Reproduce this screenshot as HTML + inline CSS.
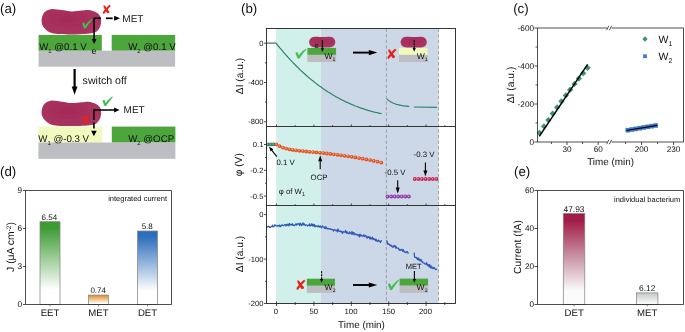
<!DOCTYPE html><html><head><meta charset="utf-8"><title>figure</title><style>html,body{margin:0;padding:0;background:#fff}svg{display:block}text{font-family:"Liberation Sans",sans-serif;fill:#111;text-rendering:geometricPrecision}.dj{font-family:"DejaVu Sans",sans-serif}</style></head><body>
<svg width="685" height="332" viewBox="0 0 685 332">
<defs>
<linearGradient id="gG" x1="0" y1="0" x2="0" y2="1"><stop offset="0" stop-color="#3c9a32"/><stop offset="0.08" stop-color="#3f9c35"/><stop offset="0.82" stop-color="#ffffff"/></linearGradient>
<linearGradient id="gO" x1="0" y1="0" x2="0" y2="1"><stop offset="0" stop-color="#dc8a1c"/><stop offset="0.9" stop-color="#ffffff"/></linearGradient>
<linearGradient id="gB" x1="0" y1="0" x2="0" y2="1"><stop offset="0" stop-color="#2c6cba"/><stop offset="0.08" stop-color="#2f6fbc"/><stop offset="0.82" stop-color="#ffffff"/></linearGradient>
<linearGradient id="gR" x1="0" y1="0" x2="0" y2="1"><stop offset="0" stop-color="#a01a45"/><stop offset="0.08" stop-color="#a21d48"/><stop offset="0.5" stop-color="#cb9aaa"/><stop offset="0.85" stop-color="#fbfbfb"/></linearGradient>
<linearGradient id="gK" x1="0" y1="0" x2="0" y2="1"><stop offset="0" stop-color="#c3c9c8"/><stop offset="1" stop-color="#ffffff"/></linearGradient>
<radialGradient id="bac" cx="0.45" cy="0.4" r="0.75"><stop offset="0" stop-color="#a52a57"/><stop offset="0.8" stop-color="#a93460"/><stop offset="1" stop-color="#bd5078"/></radialGradient>
<path id="bact" d="M0,11.4 C0.10,9.82 0.45,7.57 1.2,6 C1.95,4.43 2.92,3.00 4.5,2 C6.08,1.00 8.12,0.13 10.7,0 C13.28,-0.13 16.75,0.78 20,1.2 C23.25,1.62 26.87,2.43 30.2,2.5 C33.53,2.57 37.20,1.83 40,1.6 C42.80,1.37 44.75,0.88 47,1.1 C49.25,1.32 51.67,2.00 53.5,2.9 C55.33,3.80 57.00,5.08 58,6.5 C59.00,7.92 59.40,9.57 59.5,11.4 C59.60,13.23 59.33,15.63 58.6,17.5 C57.87,19.37 56.77,21.40 55.1,22.6 C53.43,23.80 51.45,24.25 48.6,24.7 C45.75,25.15 41.62,25.17 38,25.3 C34.38,25.43 30.57,25.53 26.9,25.5 C23.23,25.47 19.07,25.42 16,25.1 C12.93,24.78 10.65,24.53 8.5,23.6 C6.35,22.67 4.42,20.85 3.1,19.5 C1.78,18.15 1.12,16.85 0.6,15.5 C0.08,14.15 -0.10,12.98 0,11.4 Z"/>
<path id="bact2" d="M5.5,0.25 C9,0.0 11,0.55 13.2,0.55 C15.5,0.55 18,0.0 21,0.25 C24.5,0.6 26.3,3 26.3,5.6 C26.3,8.6 24.3,10.9 20.5,10.9 L6,10.9 C2.2,10.9 0.1,8.6 0.1,5.6 C0.1,3 2,0.6 5.5,0.25 Z"/>
<filter id="soft" x="-5%" y="-10%" width="110%" height="120%"><feGaussianBlur stdDeviation="0.45"/></filter>
</defs>
<rect width="685" height="332" fill="#fff"/>
<text x="0.05" y="13.3" font-size="13.3" text-anchor="start" >(a)</text>
<rect x="38.6" y="34.9" width="63.2" height="15.9" fill="#4da63c"/>
<rect x="111.7" y="34.9" width="63.4" height="15.9" fill="#4da63c"/>
<rect x="38.6" y="50.7" width="136.5" height="16" fill="#bdbec2"/>
<use href="#bact" x="41.6" y="8.9" fill="url(#bac)" filter="url(#soft)"/>
<text x="39.2" y="49.8" font-size="9.7" text-anchor="start" >W<tspan font-size="5.8" dy="3.2">1</tspan><tspan dy="-3.2"> @0.1 V</tspan></text>
<text x="128.2" y="49.8" font-size="9.7" text-anchor="start" >W<tspan font-size="5.8" dy="3.2">2</tspan><tspan dy="-3.2"> @0.1 V</tspan></text>
<text x="91.5" y="53.8" font-size="9" text-anchor="start" >e</text>
<path d="M101,18.3 H94.1 V40" fill="none" stroke="#000" stroke-width="1.5"/>
<polygon points="94.10,44.00 91.70,39.00 96.50,39.00" fill="#000"/>
<path d="M105.9,18.3 H112.7" fill="none" stroke="#000" stroke-width="1.7"/>
<polygon points="120.00,18.30 114.10,20.80 114.10,15.80" fill="#000"/>
<text x="122.3" y="21.5" font-size="10" text-anchor="start" >MET</text>
<text class="dj" x="106.5" y="14" font-size="12.5" text-anchor="middle" style="fill:#e8231c">✘</text>
<path d="M82.01,23.03 C82.62,22.46 83.86,22.26 84.27,22.84 L85.20,25.53 C86.95,23.03 89.52,20.15 91.69,19.00 C92.10,19.00 92.10,19.58 91.89,19.96 C89.52,22.84 87.16,25.91 85.92,28.22 C85.51,28.79 84.07,28.79 83.86,28.02 Z" fill="#42bd4f"/>
<path d="M74.6,69 V88" stroke="#000" stroke-width="2.2" fill="none"/>
<polygon points="74.60,94.70 71.70,86.50 77.50,86.50" fill="#000"/>
<text x="82.6" y="83.6" font-size="10.65" text-anchor="start" >switch off</text>
<rect x="38.4" y="126.6" width="63.9" height="16" fill="#f1f9bd"/>
<rect x="111.8" y="126.6" width="63.6" height="16" fill="#4da63c"/>
<rect x="38.4" y="142.5" width="137" height="16.3" fill="#bdbec2"/>
<use href="#bact" x="41.6" y="100.6" fill="url(#bac)" filter="url(#soft)"/>
<text x="38.3" y="142.2" font-size="9.7" text-anchor="start" >W<tspan font-size="5.8" dy="3.2">1</tspan><tspan dy="-3.2"> @-0.3 V</tspan></text>
<text x="128.2" y="141.9" font-size="9.7" text-anchor="start" >W<tspan font-size="5.8" dy="3.2">2</tspan><tspan dy="-3.2"> @OCP</tspan></text>
<path d="M93.9,120 V110 H115" fill="none" stroke="#000" stroke-width="1.5"/>
<polygon points="119.60,110.00 114.10,112.60 114.10,107.40" fill="#000"/>
<path d="M93.9,122.2 V131.5" fill="none" stroke="#000" stroke-width="1.6" stroke-dasharray="6.2,3"/>
<polygon points="93.90,136.30 91.10,130.80 96.70,130.80" fill="#000"/>
<text x="123.6" y="112.9" font-size="10" text-anchor="start" >MET</text>
<path d="M102.41,100.49 C103.05,99.92 104.32,99.73 104.74,100.30 L105.70,102.96 C107.50,100.49 110.15,97.64 112.38,96.50 C112.80,96.50 112.80,97.07 112.59,97.45 C110.15,100.30 107.71,103.34 106.44,105.62 C106.02,106.19 104.53,106.19 104.32,105.43 Z" fill="#42bd4f"/>
<text class="dj" x="85.9" y="124.3" font-size="12" text-anchor="middle" style="fill:#e8231c">✘</text>
<text x="0.05" y="176.2" font-size="13.3" text-anchor="start" >(d)</text>
<rect x="40" y="221.7" width="20" height="82.80000000000001" fill="url(#gG)" stroke="#858585" stroke-width="0.75"/>
<rect x="88.5" y="295.1" width="20" height="9.399999999999977" fill="url(#gO)" stroke="#858585" stroke-width="0.75"/>
<rect x="137.5" y="231" width="20" height="73.5" fill="url(#gB)" stroke="#858585" stroke-width="0.75"/>
<path d="M25.5,304.5 V190.5 H171.5 V304.5 Z" fill="none" stroke="#222" stroke-width="0.8"/>
<path d="M25.5,190.5 h-2.5" stroke="#222" stroke-width="0.8"/>
<text x="22.2" y="193.45" font-size="8.3" text-anchor="end" >9</text>
<path d="M25.5,228.5 h-2.5" stroke="#222" stroke-width="0.8"/>
<text x="22.2" y="231.45" font-size="8.3" text-anchor="end" >6</text>
<path d="M25.5,266.5 h-2.5" stroke="#222" stroke-width="0.8"/>
<text x="22.2" y="269.45" font-size="8.3" text-anchor="end" >3</text>
<path d="M25.5,304.5 h-2.5" stroke="#222" stroke-width="0.8"/>
<text x="22.2" y="307.45" font-size="8.3" text-anchor="end" >0</text>
<text x="50" y="315.9" font-size="9.6" text-anchor="middle" >EET</text>
<path d="M50,304.5 v2" stroke="#555" stroke-width="0.7"/>
<path d="M98.5,304.5 v2" stroke="#555" stroke-width="0.7"/>
<path d="M147.5,304.5 v2" stroke="#555" stroke-width="0.7"/>
<text x="98.5" y="315.9" font-size="9.6" text-anchor="middle" >MET</text>
<text x="147.5" y="315.9" font-size="9.6" text-anchor="middle" >DET</text>
<text x="49.4" y="219.9" font-size="8" text-anchor="middle" >6.54</text>
<text x="98.2" y="293.2" font-size="8" text-anchor="middle" >0.74</text>
<text x="147.2" y="229.4" font-size="8" text-anchor="middle" >5.8</text>
<text x="108.2" y="201.4" font-size="7.5" text-anchor="start" >integrated current</text>
<text transform="translate(14.2,247) rotate(-90)" font-size="10.4" text-anchor="middle">J (μA cm<tspan font-size="6.5" dy="-3.5">-2</tspan><tspan dy="3.5">)</tspan></text>
<text x="241.05" y="13.3" font-size="13.3" text-anchor="start" >(b)</text>
<rect x="276.1" y="28.5" width="44.9" height="275.0" fill="#d2f0eb"/>
<rect x="321.0" y="28.5" width="117.5" height="275.0" fill="#ccd7e8"/>
<path d="M386.4,28.5 V303.5 M438.5,28.5 V303.5" stroke="#8f9399" stroke-width="0.8" stroke-dasharray="3.4,2.2" fill="none"/>
<polyline fill="none" stroke="#2f8268" stroke-width="1.2" points="266.5,43.2 275.4,43.0 276.1,43.2 276.1,43.2 276.8,44.1 277.6,45.1 278.3,46.0 279.1,46.9 279.8,47.8 280.6,48.7 281.3,49.6 282.1,50.5 282.8,51.4 283.6,52.3 284.3,53.1 285.1,54.0 285.8,54.9 286.6,55.7 287.3,56.5 288.1,57.4 288.8,58.2 289.6,59.0 290.3,59.8 291.1,60.6 291.8,61.4 292.6,62.2 293.3,63.0 294.1,63.7 294.8,64.5 295.5,65.3 296.3,66.0 297.0,66.8 297.8,67.5 298.5,68.2 299.3,69.0 300.0,69.7 300.8,70.4 301.5,71.1 302.3,71.8 303.0,72.5 303.8,73.2 304.5,73.8 305.3,74.5 306.0,75.2 306.8,75.8 307.5,76.5 308.3,77.1 309.0,77.8 309.8,78.4 310.5,79.0 311.3,79.6 312.0,80.2 312.8,80.8 313.5,81.4 314.2,82.0 315.0,82.6 315.7,83.2 316.5,83.8 317.2,84.3 318.0,84.9 318.7,85.5 319.5,86.0 320.2,86.6 321.0,87.1 321.7,87.6 322.5,88.2 323.2,88.7 324.0,89.2 324.7,89.7 325.5,90.2 326.2,90.7 327.0,91.2 327.7,91.7 328.5,92.2 329.2,92.6 330.0,93.1 330.7,93.6 331.5,94.0 332.2,94.5 332.9,94.9 333.7,95.4 334.4,95.8 335.2,96.2 335.9,96.7 336.7,97.1 337.4,97.5 338.2,97.9 338.9,98.3 339.7,98.7 340.4,99.1 341.2,99.5 341.9,99.9 342.7,100.3 343.4,100.6 344.2,101.0 344.9,101.4 345.7,101.7 346.4,102.1 347.2,102.4 347.9,102.8 348.7,103.1 349.4,103.4 350.2,103.8 350.9,104.1 351.6,104.4 352.4,104.7 353.1,105.0 353.9,105.4 354.6,105.7 355.4,106.0 356.1,106.2 356.9,106.5 357.6,106.8 358.4,107.1 359.1,107.4 359.9,107.6 360.6,107.9 361.4,108.2 362.1,108.4 362.9,108.7 363.6,108.9 364.4,109.2 365.1,109.4 365.9,109.6 366.6,109.9 367.4,110.1 368.1,110.3 368.9,110.6 369.6,110.8 370.3,111.0 371.1,111.2 371.8,111.4 372.6,111.6 373.3,111.8 374.1,112.0 374.8,112.2 375.6,112.4 376.3,112.5 377.1,112.7 377.8,112.9 378.6,113.1 379.3,113.2 380.1,113.4 380.8,113.5 381.6,113.7"/>
<polyline fill="none" stroke="#2f8268" stroke-width="1.2" points="386.8,98.9 387.6,99.6 388.3,100.2 389.0,100.7 389.8,101.2 390.5,101.7 391.3,102.1 392.0,102.5 392.8,102.9 393.5,103.2 394.3,103.5 395.0,103.8 395.8,104.1 396.5,104.3 397.3,104.5 398.0,104.7 398.8,104.9 399.5,105.1 400.3,105.2 401.0,105.4 401.8,105.5 402.5,105.7 403.3,105.8 404.0,105.9 404.8,106.0 405.5,106.1 406.3,106.1 407.0,106.2 407.7,106.3 408.5,106.3 409.2,106.4"/>
<path d="M414,107 L437,107.4" stroke="#2f8268" stroke-width="1.2" fill="none"/>
<circle cx="267.9" cy="144.4" r="1.9" fill="#2f8268"/><circle cx="267.6" cy="144.1" r="0.7" fill="#fff" fill-opacity="0.6"/>
<circle cx="270.7" cy="144.4" r="1.9" fill="#2f8268"/><circle cx="270.4" cy="144.1" r="0.7" fill="#fff" fill-opacity="0.6"/>
<circle cx="273.5" cy="144.4" r="1.9" fill="#2f8268"/><circle cx="273.2" cy="144.1" r="0.7" fill="#fff" fill-opacity="0.6"/>
<circle cx="276.4" cy="144.3" r="1.9" fill="#e2521c"/><circle cx="276.1" cy="144.0" r="0.7" fill="#fff" fill-opacity="0.6"/>
<circle cx="279.6" cy="146.2" r="1.9" fill="#e2521c"/><circle cx="279.3" cy="145.9" r="0.7" fill="#fff" fill-opacity="0.6"/>
<circle cx="282.9" cy="147.6" r="1.9" fill="#e2521c"/><circle cx="282.6" cy="147.2" r="0.7" fill="#fff" fill-opacity="0.6"/>
<circle cx="286.2" cy="148.6" r="1.9" fill="#e2521c"/><circle cx="285.9" cy="148.2" r="0.7" fill="#fff" fill-opacity="0.6"/>
<circle cx="289.5" cy="149.3" r="1.9" fill="#e2521c"/><circle cx="289.2" cy="149.0" r="0.7" fill="#fff" fill-opacity="0.6"/>
<circle cx="292.8" cy="149.9" r="1.9" fill="#e2521c"/><circle cx="292.5" cy="149.5" r="0.7" fill="#fff" fill-opacity="0.6"/>
<circle cx="296.1" cy="150.4" r="1.9" fill="#e2521c"/><circle cx="295.8" cy="150.0" r="0.7" fill="#fff" fill-opacity="0.6"/>
<circle cx="299.5" cy="150.8" r="1.9" fill="#e2521c"/><circle cx="299.2" cy="150.4" r="0.7" fill="#fff" fill-opacity="0.6"/>
<circle cx="302.9" cy="151.1" r="1.9" fill="#e2521c"/><circle cx="302.6" cy="150.8" r="0.7" fill="#fff" fill-opacity="0.6"/>
<circle cx="306.2" cy="151.5" r="1.9" fill="#e2521c"/><circle cx="305.9" cy="151.1" r="0.7" fill="#fff" fill-opacity="0.6"/>
<circle cx="309.6" cy="151.8" r="1.9" fill="#e2521c"/><circle cx="309.3" cy="151.4" r="0.7" fill="#fff" fill-opacity="0.6"/>
<circle cx="313.1" cy="152.1" r="1.9" fill="#e2521c"/><circle cx="312.8" cy="151.8" r="0.7" fill="#fff" fill-opacity="0.6"/>
<circle cx="316.5" cy="152.4" r="1.9" fill="#e2521c"/><circle cx="316.2" cy="152.1" r="0.7" fill="#fff" fill-opacity="0.6"/>
<circle cx="320.0" cy="152.8" r="1.9" fill="#e2521c"/><circle cx="319.7" cy="152.4" r="0.7" fill="#fff" fill-opacity="0.6"/>
<circle cx="323.4" cy="153.1" r="1.9" fill="#e2521c"/><circle cx="323.1" cy="152.8" r="0.7" fill="#fff" fill-opacity="0.6"/>
<circle cx="326.9" cy="153.5" r="1.9" fill="#e2521c"/><circle cx="326.6" cy="153.2" r="0.7" fill="#fff" fill-opacity="0.6"/>
<circle cx="330.4" cy="153.9" r="1.9" fill="#e2521c"/><circle cx="330.1" cy="153.6" r="0.7" fill="#fff" fill-opacity="0.6"/>
<circle cx="333.9" cy="154.3" r="1.9" fill="#e2521c"/><circle cx="333.6" cy="154.0" r="0.7" fill="#fff" fill-opacity="0.6"/>
<circle cx="337.5" cy="154.8" r="1.9" fill="#e2521c"/><circle cx="337.2" cy="154.4" r="0.7" fill="#fff" fill-opacity="0.6"/>
<circle cx="341.0" cy="155.3" r="1.9" fill="#e2521c"/><circle cx="340.7" cy="154.9" r="0.7" fill="#fff" fill-opacity="0.6"/>
<circle cx="344.6" cy="155.8" r="1.9" fill="#e2521c"/><circle cx="344.3" cy="155.4" r="0.7" fill="#fff" fill-opacity="0.6"/>
<circle cx="348.2" cy="156.3" r="1.9" fill="#e2521c"/><circle cx="347.9" cy="155.9" r="0.7" fill="#fff" fill-opacity="0.6"/>
<circle cx="351.8" cy="156.8" r="1.9" fill="#e2521c"/><circle cx="351.5" cy="156.5" r="0.7" fill="#fff" fill-opacity="0.6"/>
<circle cx="355.4" cy="157.4" r="1.9" fill="#e2521c"/><circle cx="355.1" cy="157.1" r="0.7" fill="#fff" fill-opacity="0.6"/>
<circle cx="359.1" cy="158.1" r="1.9" fill="#e2521c"/><circle cx="358.8" cy="157.7" r="0.7" fill="#fff" fill-opacity="0.6"/>
<circle cx="362.7" cy="158.7" r="1.9" fill="#e2521c"/><circle cx="362.4" cy="158.4" r="0.7" fill="#fff" fill-opacity="0.6"/>
<circle cx="366.4" cy="159.4" r="1.9" fill="#e2521c"/><circle cx="366.1" cy="159.1" r="0.7" fill="#fff" fill-opacity="0.6"/>
<circle cx="370.1" cy="160.1" r="1.9" fill="#e2521c"/><circle cx="369.8" cy="159.8" r="0.7" fill="#fff" fill-opacity="0.6"/>
<circle cx="373.8" cy="160.9" r="1.9" fill="#e2521c"/><circle cx="373.5" cy="160.6" r="0.7" fill="#fff" fill-opacity="0.6"/>
<circle cx="377.6" cy="161.7" r="1.9" fill="#e2521c"/><circle cx="377.3" cy="161.4" r="0.7" fill="#fff" fill-opacity="0.6"/>
<circle cx="381.3" cy="162.6" r="1.9" fill="#e2521c"/><circle cx="381.0" cy="162.2" r="0.7" fill="#fff" fill-opacity="0.6"/>
<circle cx="387.6" cy="196.5" r="1.9" fill="#8e3aa8"/><circle cx="387.3" cy="196.2" r="0.7" fill="#fff" fill-opacity="0.6"/>
<circle cx="391.2" cy="196.5" r="1.9" fill="#8e3aa8"/><circle cx="390.9" cy="196.2" r="0.7" fill="#fff" fill-opacity="0.6"/>
<circle cx="394.7" cy="196.5" r="1.9" fill="#8e3aa8"/><circle cx="394.4" cy="196.2" r="0.7" fill="#fff" fill-opacity="0.6"/>
<circle cx="398.2" cy="196.5" r="1.9" fill="#8e3aa8"/><circle cx="397.9" cy="196.2" r="0.7" fill="#fff" fill-opacity="0.6"/>
<circle cx="401.8" cy="196.5" r="1.9" fill="#8e3aa8"/><circle cx="401.5" cy="196.2" r="0.7" fill="#fff" fill-opacity="0.6"/>
<circle cx="405.4" cy="196.5" r="1.9" fill="#8e3aa8"/><circle cx="405.1" cy="196.2" r="0.7" fill="#fff" fill-opacity="0.6"/>
<circle cx="408.9" cy="196.5" r="1.9" fill="#8e3aa8"/><circle cx="408.6" cy="196.2" r="0.7" fill="#fff" fill-opacity="0.6"/>
<circle cx="414.8" cy="179.0" r="1.9" fill="#c4264e"/><circle cx="414.5" cy="178.7" r="0.7" fill="#fff" fill-opacity="0.6"/>
<circle cx="418.4" cy="179.0" r="1.9" fill="#c4264e"/><circle cx="418.1" cy="178.7" r="0.7" fill="#fff" fill-opacity="0.6"/>
<circle cx="422.0" cy="179.0" r="1.9" fill="#c4264e"/><circle cx="421.7" cy="178.7" r="0.7" fill="#fff" fill-opacity="0.6"/>
<circle cx="425.6" cy="179.0" r="1.9" fill="#c4264e"/><circle cx="425.3" cy="178.7" r="0.7" fill="#fff" fill-opacity="0.6"/>
<circle cx="429.2" cy="179.0" r="1.9" fill="#c4264e"/><circle cx="428.9" cy="178.7" r="0.7" fill="#fff" fill-opacity="0.6"/>
<circle cx="432.8" cy="179.0" r="1.9" fill="#c4264e"/><circle cx="432.5" cy="178.7" r="0.7" fill="#fff" fill-opacity="0.6"/>
<circle cx="436.4" cy="179.0" r="1.9" fill="#c4264e"/><circle cx="436.1" cy="178.7" r="0.7" fill="#fff" fill-opacity="0.6"/>
<polyline fill="none" stroke="#2f58b8" stroke-width="1.25" stroke-linejoin="round" points="266.5,226.8 267.0,227.3 267.5,226.7 268.0,226.6 268.5,226.1 269.0,226.6 269.5,227.4 270.0,226.9 270.5,227.3 271.0,226.7 271.5,226.7 272.0,226.5 272.5,225.2 273.0,226.9 273.5,226.6 274.0,226.5 274.5,224.9 275.0,224.8 275.5,225.4 276.0,225.6 276.5,226.1 277.0,225.8 277.5,226.2 278.0,225.3 278.5,225.9 279.0,225.9 279.5,225.1 280.0,226.8 280.5,225.9 281.0,226.3 281.5,225.0 282.0,224.9 282.5,225.1 283.0,225.3 283.5,225.7 284.0,225.4 284.5,224.9 285.0,224.5 285.5,224.8 286.0,226.0 286.5,224.5 287.0,225.2 287.5,225.3 288.0,224.0 288.5,225.0 289.0,225.9 289.5,223.5 290.0,224.7 290.5,224.8 291.0,224.3 291.5,225.2 292.0,224.7 292.5,223.7 293.0,225.3 293.5,225.2 294.0,225.4 294.5,225.7 295.0,224.9 295.5,224.7 296.0,223.7 296.5,225.1 297.0,224.2 297.5,224.3 298.0,223.7 298.5,223.9 299.0,224.2 299.5,225.5 300.0,223.2 300.5,223.6 301.0,224.7 301.5,225.6 302.0,225.0 302.5,223.3 303.0,222.9 303.5,224.9 304.0,224.1 304.5,223.9 305.0,225.4 305.5,225.5 306.0,224.9 306.5,225.0 307.0,225.1 307.5,226.0 308.0,225.3 308.5,225.3 309.0,225.4 309.5,223.9 310.0,226.0 310.5,225.8 311.0,225.5 311.5,223.8 312.0,224.8 312.5,225.9 313.0,224.1 313.5,225.3 314.0,226.2 314.5,224.6 315.0,226.8 315.5,226.1 316.0,225.7 316.5,226.1 317.0,226.4 317.5,226.1 318.0,226.9 318.5,225.7 319.0,226.0 319.5,227.1 320.0,226.5 320.5,225.9 321.0,227.3 321.5,227.8 322.0,226.6 322.5,226.0 323.0,227.0 323.5,227.1 324.0,227.1 324.5,228.4 325.0,226.8 325.5,228.6 326.0,226.9 326.5,227.4 327.0,228.5 327.5,228.9 328.0,228.9 328.5,228.6 329.0,228.6 329.5,228.8 330.0,229.2 330.5,228.8 331.0,229.2 331.5,229.6 332.0,229.3 332.5,229.9 333.0,229.9 333.5,231.1 334.0,230.0 334.5,229.6 335.0,229.8 335.5,230.2 336.0,230.9 336.5,230.2 337.0,230.8 337.5,231.9 338.0,229.0 338.5,230.1 339.0,231.2 339.5,231.4 340.0,231.4 340.5,231.0 341.0,231.9 341.5,231.7 342.0,231.3 342.5,233.5 343.0,232.1 343.5,231.6 344.0,232.0 344.5,232.0 345.0,232.2 345.5,230.4 346.0,232.0 346.5,233.2 347.0,231.7 347.5,232.6 348.0,233.4 348.5,233.4 349.0,233.9 349.5,231.8 350.0,232.8 350.5,232.9 351.0,233.6 351.5,234.1 352.0,231.5 352.5,234.2 353.0,232.5 353.5,234.1 354.0,232.7 354.5,234.0 355.0,234.8 355.5,233.9 356.0,234.3 356.5,234.8 357.0,234.5 357.5,234.4 358.0,235.7 358.5,235.4 359.0,234.6 359.5,236.9 360.0,234.2 360.5,235.8 361.0,235.1 361.5,235.5 362.0,236.0 362.5,235.8 363.0,236.2 363.5,234.9 364.0,235.0 364.5,236.6 365.0,235.6 365.5,235.7 366.0,235.6 366.5,237.6 367.0,237.4 367.5,238.0 368.0,236.5 368.5,237.3 369.0,236.6 369.5,238.1 370.0,238.8 370.5,237.2 371.0,239.1 371.5,238.8 372.0,238.2 372.5,237.1 373.0,239.6 373.5,238.7 374.0,238.6 374.5,239.4 375.0,239.6 375.5,240.6 376.0,239.0 376.5,240.7 377.0,241.1 377.5,241.3 378.0,240.3 378.5,240.1 379.0,241.6 379.5,241.1 380.0,241.3 380.5,242.4 381.0,241.4 381.5,240.1"/>
<polyline fill="none" stroke="#2f58b8" stroke-width="1.25" stroke-linejoin="round" points="386.6,240.3 387.3,242.2 387.8,244.3 388.3,244.2 388.8,243.8 389.3,244.4 389.8,245.3 390.3,245.0 390.8,246.1 391.3,245.3 391.8,246.3 392.3,246.9 392.8,247.2 393.3,245.8 393.8,247.1 394.3,245.4 394.8,246.2 395.3,245.8 395.8,248.2 396.3,246.8 396.8,247.9 397.3,248.0 397.8,248.3 398.3,248.2 398.8,249.0 399.3,250.3 399.8,249.3 400.3,249.9 400.8,250.4 401.3,249.8 401.8,249.3 402.3,250.0 402.8,251.4 403.3,249.7 403.8,250.7 404.3,252.0 404.8,252.1 405.3,251.8 405.8,252.6 406.3,252.4 406.8,251.6 407.3,251.6 407.8,252.5 408.3,253.8"/>
<polyline fill="none" stroke="#2f58b8" stroke-width="1.25" stroke-linejoin="round" points="414.2,252.6 414.4,255.5 414.6,257.2 415.1,257.2 415.6,257.6 416.1,257.3 416.6,258.6 417.1,258.1 417.6,259.5 418.1,257.8 418.6,260.0 419.1,259.6 419.6,258.9 420.1,261.1 420.6,260.6 421.1,259.5 421.6,260.8 422.1,261.9 422.6,261.6 423.1,262.7 423.6,263.0 424.1,263.2 424.6,263.2 425.1,264.2 425.6,264.0 426.1,264.1 426.6,262.6 427.1,265.0 427.6,265.5 428.1,264.7 428.6,264.8 429.1,266.8 429.6,264.5 430.1,266.3 430.6,267.9 431.1,265.9 431.6,267.3 432.1,268.4 432.6,267.2 433.1,268.0 433.6,268.5 434.1,267.5 434.6,268.3 435.1,268.9 435.6,269.5 436.1,269.2 436.6,269.3 437.1,269.0"/>
<rect x="266.5" y="28.5" width="189.0" height="275.0" fill="none" stroke="#222" stroke-width="0.9"/>
<path d="M266.5,126.5 H455.5 M266.5,205.5 H455.5" stroke="#222" stroke-width="0.9" fill="none"/>
<path d="M266.5,43.2 h-2.5" stroke="#222" stroke-width="0.8"/>
<text x="263.4" y="45.900000000000006" font-size="7.6" text-anchor="end" >0</text>
<path d="M266.5,82.5 h-2.5" stroke="#222" stroke-width="0.8"/>
<text x="263.4" y="85.18" font-size="7.6" text-anchor="end" >-400</text>
<path d="M266.5,121.8 h-2.5" stroke="#222" stroke-width="0.8"/>
<text x="263.4" y="124.46000000000001" font-size="7.6" text-anchor="end" >-800</text>
<path d="M266.5,62.8 h-1.5" stroke="#222" stroke-width="0.8"/>
<path d="M266.5,102.1 h-1.5" stroke="#222" stroke-width="0.8"/>
<path d="M266.5,144.5 h-2.5" stroke="#222" stroke-width="0.8"/>
<text x="263.4" y="147.2" font-size="7.6" text-anchor="end" >0.1</text>
<path d="M266.5,170.3 h-2.5" stroke="#222" stroke-width="0.8"/>
<text x="263.4" y="173.0" font-size="7.6" text-anchor="end" >-0.2</text>
<path d="M266.5,196.1 h-2.5" stroke="#222" stroke-width="0.8"/>
<text x="263.4" y="198.79999999999998" font-size="7.6" text-anchor="end" >-0.5</text>
<path d="M266.5,157.4 h-1.5" stroke="#222" stroke-width="0.8"/>
<path d="M266.5,183.2 h-1.5" stroke="#222" stroke-width="0.8"/>
<path d="M266.5,214.6 h-2.5" stroke="#222" stroke-width="0.8"/>
<text x="263.4" y="217.29999999999998" font-size="7.6" text-anchor="end" >0</text>
<path d="M266.5,259.1 h-2.5" stroke="#222" stroke-width="0.8"/>
<text x="263.4" y="261.75" font-size="7.6" text-anchor="end" >-100</text>
<path d="M266.5,303.5 h-2.5" stroke="#222" stroke-width="0.8"/>
<text x="263.4" y="306.2" font-size="7.6" text-anchor="end" >-200</text>
<path d="M266.5,236.8 h-1.5" stroke="#222" stroke-width="0.8"/>
<path d="M266.5,281.3 h-1.5" stroke="#222" stroke-width="0.8"/>
<path d="M276.5,126.5 v-2" stroke="#222" stroke-width="0.8"/>
<path d="M295.2,126.5 v-1.3" stroke="#222" stroke-width="0.8"/>
<path d="M313.9,126.5 v-2" stroke="#222" stroke-width="0.8"/>
<path d="M332.6,126.5 v-1.3" stroke="#222" stroke-width="0.8"/>
<path d="M351.3,126.5 v-2" stroke="#222" stroke-width="0.8"/>
<path d="M370.0,126.5 v-1.3" stroke="#222" stroke-width="0.8"/>
<path d="M388.7,126.5 v-2" stroke="#222" stroke-width="0.8"/>
<path d="M407.4,126.5 v-1.3" stroke="#222" stroke-width="0.8"/>
<path d="M426.1,126.5 v-2" stroke="#222" stroke-width="0.8"/>
<path d="M444.8,126.5 v-1.3" stroke="#222" stroke-width="0.8"/>
<path d="M276.5,205.5 v-2" stroke="#222" stroke-width="0.8"/>
<path d="M295.2,205.5 v-1.3" stroke="#222" stroke-width="0.8"/>
<path d="M313.9,205.5 v-2" stroke="#222" stroke-width="0.8"/>
<path d="M332.6,205.5 v-1.3" stroke="#222" stroke-width="0.8"/>
<path d="M351.3,205.5 v-2" stroke="#222" stroke-width="0.8"/>
<path d="M370.0,205.5 v-1.3" stroke="#222" stroke-width="0.8"/>
<path d="M388.7,205.5 v-2" stroke="#222" stroke-width="0.8"/>
<path d="M407.4,205.5 v-1.3" stroke="#222" stroke-width="0.8"/>
<path d="M426.1,205.5 v-2" stroke="#222" stroke-width="0.8"/>
<path d="M444.8,205.5 v-1.3" stroke="#222" stroke-width="0.8"/>
<path d="M276.5,303.5 v-2" stroke="#222" stroke-width="0.8"/>
<path d="M295.2,303.5 v-1.3" stroke="#222" stroke-width="0.8"/>
<path d="M313.9,303.5 v-2" stroke="#222" stroke-width="0.8"/>
<path d="M332.6,303.5 v-1.3" stroke="#222" stroke-width="0.8"/>
<path d="M351.3,303.5 v-2" stroke="#222" stroke-width="0.8"/>
<path d="M370.0,303.5 v-1.3" stroke="#222" stroke-width="0.8"/>
<path d="M388.7,303.5 v-2" stroke="#222" stroke-width="0.8"/>
<path d="M407.4,303.5 v-1.3" stroke="#222" stroke-width="0.8"/>
<path d="M426.1,303.5 v-2" stroke="#222" stroke-width="0.8"/>
<path d="M444.8,303.5 v-1.3" stroke="#222" stroke-width="0.8"/>
<path d="M276.5,303.5 v2.5" stroke="#222" stroke-width="0.8"/>
<path d="M295.2,303.5 v1.5" stroke="#222" stroke-width="0.8"/>
<path d="M313.9,303.5 v2.5" stroke="#222" stroke-width="0.8"/>
<path d="M332.6,303.5 v1.5" stroke="#222" stroke-width="0.8"/>
<path d="M351.3,303.5 v2.5" stroke="#222" stroke-width="0.8"/>
<path d="M370.0,303.5 v1.5" stroke="#222" stroke-width="0.8"/>
<path d="M388.7,303.5 v2.5" stroke="#222" stroke-width="0.8"/>
<path d="M407.4,303.5 v1.5" stroke="#222" stroke-width="0.8"/>
<path d="M426.1,303.5 v2.5" stroke="#222" stroke-width="0.8"/>
<path d="M444.8,303.5 v1.5" stroke="#222" stroke-width="0.8"/>
<text x="276" y="314.2" font-size="7.7" text-anchor="middle" >0</text>
<text x="313.7" y="314.2" font-size="7.7" text-anchor="middle" >50</text>
<text x="351" y="314.2" font-size="7.7" text-anchor="middle" >100</text>
<text x="388.6" y="314.2" font-size="7.7" text-anchor="middle" >150</text>
<text x="425.5" y="314.2" font-size="7.7" text-anchor="middle" >200</text>
<text x="361.5" y="328.2" font-size="9.9" text-anchor="middle" >Time (min)</text>
<text transform="translate(242.8,76) rotate(-90)" font-size="10.2" text-anchor="middle">ΔI (a.u.)</text>
<text transform="translate(242,164.7) rotate(-90)" font-size="10.2" text-anchor="middle">φ (V)</text>
<text transform="translate(242.6,254) rotate(-90)" font-size="10.2" text-anchor="middle">ΔI (a.u.)</text>
<text x="276.5" y="164.8" font-size="7.8" text-anchor="start" >0.1 V</text>
<path d="M276.8,156.6 L270.8,148.9" stroke="#000" stroke-width="1.1"/>
<polygon points="268.90,146.40 273.32,149.29 270.64,151.39" fill="#000"/>
<text x="310.6" y="179.7" font-size="7.8" text-anchor="start" >OCP</text>
<path d="M320.2,169.3 V159" stroke="#000" stroke-width="1.1"/>
<polygon points="320.20,155.20 322.20,161.20 318.20,161.20" fill="#000"/>
<text x="278.7" y="194" font-size="7.8" text-anchor="start" >φ of W<tspan font-size="5.5" dy="2.3">1</tspan><tspan dy="-2.3"></tspan></text>
<text x="384.6" y="175" font-size="7.8" text-anchor="start" >-0.5 V</text>
<path d="M397.7,180.2 V189" stroke="#000" stroke-width="1.1"/>
<polygon points="397.70,193.60 395.70,187.60 399.70,187.60" fill="#000"/>
<text x="413.6" y="157" font-size="7.8" text-anchor="start" >-0.3 V</text>
<path d="M425.4,162.6 V172" stroke="#000" stroke-width="1.1"/>
<polygon points="425.40,176.40 423.40,170.40 427.40,170.40" fill="#000"/>
<rect x="307.4" y="47.9" width="28.7" height="7" fill="#4da63c"/><rect x="307.4" y="54.9" width="28.7" height="7.1" fill="#bdbec2"/>
<use href="#bact2" x="309" y="36.5" fill="url(#bac)"/>
<text x="324.4" y="59.2" font-size="8.5" text-anchor="start" >W<tspan font-size="5.2" dy="1.8">1</tspan><tspan dy="-1.8"></tspan></text>
<text x="314.4" y="47.6" font-size="7.5" text-anchor="start" >e</text>
<path d="M322.4,40 V49" stroke="#000" stroke-width="1.2"/>
<polygon points="322.40,52.00 320.80,48.20 324.00,48.20" fill="#000"/>
<path d="M295.42,52.90 C296.09,52.30 297.42,52.10 297.86,52.70 L298.86,55.50 C300.75,52.90 303.52,49.90 305.86,48.70 C306.30,48.70 306.30,49.30 306.08,49.70 C303.52,52.70 300.97,55.90 299.64,58.30 C299.20,58.90 297.64,58.90 297.42,58.10 Z" fill="#42bd4f"/>
<path d="M353,52.6 H370" stroke="#000" stroke-width="1.9"/>
<polygon points="377.30,52.60 368.80,55.20 368.80,50.00" fill="#000"/>
<text class="dj" x="391.7" y="59" font-size="14" text-anchor="middle" style="fill:#e8231c">✘</text>
<rect x="399" y="47.9" width="28.7" height="7" fill="#f1f9bd"/><rect x="399" y="54.9" width="28.7" height="7.1" fill="#bdbec2"/>
<use href="#bact2" x="400.5" y="36.5" fill="url(#bac)"/>
<text x="416.8" y="59.2" font-size="8.5" text-anchor="start" >W<tspan font-size="5.2" dy="1.8">1</tspan><tspan dy="-1.8"></tspan></text>
<path d="M414.2,40.3 V48.5" stroke="#000" stroke-width="1.2" stroke-dasharray="2,1"/>
<polygon points="414.20,51.70 412.60,47.90 415.80,47.90" fill="#000"/>
<text class="dj" x="300.5" y="290" font-size="14" text-anchor="middle" style="fill:#e8231c">✘</text>
<rect x="306.8" y="278.7" width="28.2" height="7.1" fill="#4da63c"/><rect x="306.8" y="285.8" width="28.2" height="7.1" fill="#bdbec2"/>
<text x="324.6" y="290.3" font-size="8.5" text-anchor="start" >W<tspan font-size="5.2" dy="1.8">2</tspan><tspan dy="-1.8"></tspan></text>
<path d="M321.6,271.2 V279.5" stroke="#000" stroke-width="1.2" stroke-dasharray="2,1"/>
<polygon points="321.60,282.80 320.00,279.00 323.20,279.00" fill="#000"/>
<path d="M353,285 H370" stroke="#000" stroke-width="1.9"/>
<polygon points="377.30,285.00 368.80,287.60 368.80,282.40" fill="#000"/>
<path d="M387.83,284.17 C388.51,283.54 389.88,283.34 390.34,283.96 L391.36,286.87 C393.30,284.17 396.15,281.05 398.54,279.80 C399.00,279.80 399.00,280.42 398.77,280.84 C396.15,283.96 393.53,287.29 392.16,289.78 C391.70,290.41 390.11,290.41 389.88,289.58 Z" fill="#42bd4f"/>
<rect x="399.6" y="278.6" width="28.5" height="7.1" fill="#4da63c"/><rect x="399.6" y="285.7" width="28.5" height="7.2" fill="#bdbec2"/>
<text x="416.6" y="290.3" font-size="8.5" text-anchor="start" >W<tspan font-size="5.2" dy="1.8">2</tspan><tspan dy="-1.8"></tspan></text>
<text x="405.7" y="268.9" font-size="7.5" text-anchor="start" >MET</text>
<path d="M414.4,271 V279.5" stroke="#000" stroke-width="1.1"/>
<polygon points="414.40,282.80 412.80,279.00 416.00,279.00" fill="#000"/>
<text x="513.15" y="13.3" font-size="13.3" text-anchor="start" >(c)</text>
<rect x="537.4" y="130.7" width="4.4" height="4.4" fill="#3b9478" transform="rotate(45 539.6 132.9)"/>
<rect x="541.8" y="124.2" width="4.4" height="4.4" fill="#3b9478" transform="rotate(45 544.0 126.4)"/>
<rect x="546.1" y="117.8" width="4.4" height="4.4" fill="#3b9478" transform="rotate(45 548.3 120.0)"/>
<rect x="550.5" y="111.4" width="4.4" height="4.4" fill="#3b9478" transform="rotate(45 552.7 113.6)"/>
<rect x="554.9" y="105.2" width="4.4" height="4.4" fill="#3b9478" transform="rotate(45 557.1 107.4)"/>
<rect x="559.2" y="99.1" width="4.4" height="4.4" fill="#3b9478" transform="rotate(45 561.4 101.3)"/>
<rect x="563.6" y="93.2" width="4.4" height="4.4" fill="#3b9478" transform="rotate(45 565.8 95.4)"/>
<rect x="567.9" y="87.5" width="4.4" height="4.4" fill="#3b9478" transform="rotate(45 570.1 89.7)"/>
<rect x="572.3" y="81.8" width="4.4" height="4.4" fill="#3b9478" transform="rotate(45 574.5 84.0)"/>
<rect x="576.7" y="76.4" width="4.4" height="4.4" fill="#3b9478" transform="rotate(45 578.9 78.6)"/>
<rect x="581.0" y="71.0" width="4.4" height="4.4" fill="#3b9478" transform="rotate(45 583.2 73.2)"/>
<rect x="585.4" y="65.6" width="4.4" height="4.4" fill="#3b9478" transform="rotate(45 587.6 67.8)"/>
<path d="M539.3,136.4 L587.6,64.3" stroke="#000" stroke-width="1.5" fill="none"/>
<rect x="625.5" y="127.9" width="4.6" height="4.6" fill="#3c7bd0"/>
<rect x="629.5" y="127.2" width="4.6" height="4.6" fill="#3c7bd0"/>
<rect x="633.4" y="126.6" width="4.6" height="4.6" fill="#3c7bd0"/>
<rect x="637.4" y="125.9" width="4.6" height="4.6" fill="#3c7bd0"/>
<rect x="641.4" y="125.2" width="4.6" height="4.6" fill="#3c7bd0"/>
<rect x="645.4" y="124.5" width="4.6" height="4.6" fill="#3c7bd0"/>
<rect x="649.3" y="123.9" width="4.6" height="4.6" fill="#3c7bd0"/>
<rect x="653.3" y="123.2" width="4.6" height="4.6" fill="#3c7bd0"/>
<path d="M626.2,130.5 L657.2,125.3" stroke="#000" stroke-width="1.25" fill="none"/>
<path d="M537.5,142 V28 H683.5 V142 Z" fill="none" stroke="#222" stroke-width="0.8"/>
<rect x="607" y="27" width="4.6" height="2" fill="#fff"/>
<path d="M606.6,30.2 l2.2,-4.4 M609.4,30.2 l2.2,-4.4" stroke="#222" stroke-width="0.8"/>
<rect x="607" y="141" width="4.6" height="2" fill="#fff"/>
<path d="M606.6,144.2 l2.2,-4.4 M609.4,144.2 l2.2,-4.4" stroke="#222" stroke-width="0.8"/>
<path d="M537.5,28 h-3" stroke="#222" stroke-width="0.8"/>
<text x="534" y="30.95" font-size="8.2" text-anchor="end" >-600</text>
<path d="M537.5,66 h-3" stroke="#222" stroke-width="0.8"/>
<text x="534" y="68.95" font-size="8.2" text-anchor="end" >-400</text>
<path d="M537.5,104 h-3" stroke="#222" stroke-width="0.8"/>
<text x="534" y="106.95" font-size="8.2" text-anchor="end" >-200</text>
<path d="M537.5,142 h-3" stroke="#222" stroke-width="0.8"/>
<text x="534" y="144.95" font-size="8.2" text-anchor="end" >0</text>
<path d="M537.5,47 h-2" stroke="#222" stroke-width="0.8"/>
<path d="M537.5,85 h-2" stroke="#222" stroke-width="0.8"/>
<path d="M537.5,123 h-2" stroke="#222" stroke-width="0.8"/>
<path d="M567,142 v3" stroke="#222" stroke-width="0.8"/>
<text x="567" y="152" font-size="8.2" text-anchor="middle" >30</text>
<path d="M598.2,142 v3" stroke="#222" stroke-width="0.8"/>
<text x="598.2" y="152" font-size="8.2" text-anchor="middle" >60</text>
<path d="M641.6,142 v3" stroke="#222" stroke-width="0.8"/>
<text x="641.6" y="152" font-size="8.2" text-anchor="middle" >200</text>
<path d="M673.6,142 v3" stroke="#222" stroke-width="0.8"/>
<text x="673.6" y="152" font-size="8.2" text-anchor="middle" >230</text>
<path d="M551.4,142 v2" stroke="#222" stroke-width="0.8"/>
<path d="M582.6,142 v2" stroke="#222" stroke-width="0.8"/>
<path d="M625.6,142 v2" stroke="#222" stroke-width="0.8"/>
<path d="M657.6,142 v2" stroke="#222" stroke-width="0.8"/>
<text x="610.6" y="164.9" font-size="9.9" text-anchor="middle" >Time (min)</text>
<text transform="translate(514.3,85) rotate(-90)" font-size="10.3" text-anchor="middle">ΔI (a.u.)</text>
<rect x="643.1" y="37.1" width="3.8" height="3.8" fill="#3b9478" transform="rotate(45 645 39)"/>
<rect x="643.1" y="54.3" width="3.8" height="3.8" fill="#3c7bd0"/>
<text x="658.6" y="42.8" font-size="10.5" text-anchor="start" >W<tspan font-size="7" dy="2.8">1</tspan><tspan dy="-2.8"></tspan></text>
<text x="658.6" y="60.3" font-size="10.5" text-anchor="start" >W<tspan font-size="7" dy="2.8">2</tspan><tspan dy="-2.8"></tspan></text>
<text x="514.05" y="176.2" font-size="13.3" text-anchor="start" >(e)</text>
<rect x="563.3" y="213.4" width="21.5" height="91.1" fill="url(#gR)" stroke="#858585" stroke-width="0.75"/>
<rect x="636.4" y="292.9" width="21.5" height="11.600000000000023" fill="url(#gK)" stroke="#858585" stroke-width="0.75"/>
<path d="M537.5,304.5 V190.5 H683.5 V304.5 Z" fill="none" stroke="#222" stroke-width="0.8"/>
<path d="M537.5,190.5 h-3" stroke="#222" stroke-width="0.8"/>
<text x="534" y="193.45" font-size="8.2" text-anchor="end" >60</text>
<path d="M537.5,228.5 h-3" stroke="#222" stroke-width="0.8"/>
<text x="534" y="231.45" font-size="8.2" text-anchor="end" >40</text>
<path d="M537.5,266.5 h-3" stroke="#222" stroke-width="0.8"/>
<text x="534" y="269.45" font-size="8.2" text-anchor="end" >20</text>
<path d="M537.5,304.5 h-3" stroke="#222" stroke-width="0.8"/>
<text x="534" y="307.45" font-size="8.2" text-anchor="end" >0</text>
<text x="574.2" y="315.9" font-size="9.6" text-anchor="middle" >DET</text>
<path d="M574,304.5 v2" stroke="#555" stroke-width="0.7"/>
<path d="M647.2,304.5 v2" stroke="#555" stroke-width="0.7"/>
<text x="647.2" y="315.9" font-size="9.6" text-anchor="middle" >MET</text>
<text x="574" y="211.7" font-size="8.4" text-anchor="middle" >47.93</text>
<text x="647.2" y="291.1" font-size="8.4" text-anchor="middle" >6.12</text>
<text x="614" y="201.8" font-size="7.5" text-anchor="start" >individual bacterium</text>
<text transform="translate(521,247) rotate(-90)" font-size="10.3" text-anchor="middle">Current (fA)</text>
</svg></body></html>
